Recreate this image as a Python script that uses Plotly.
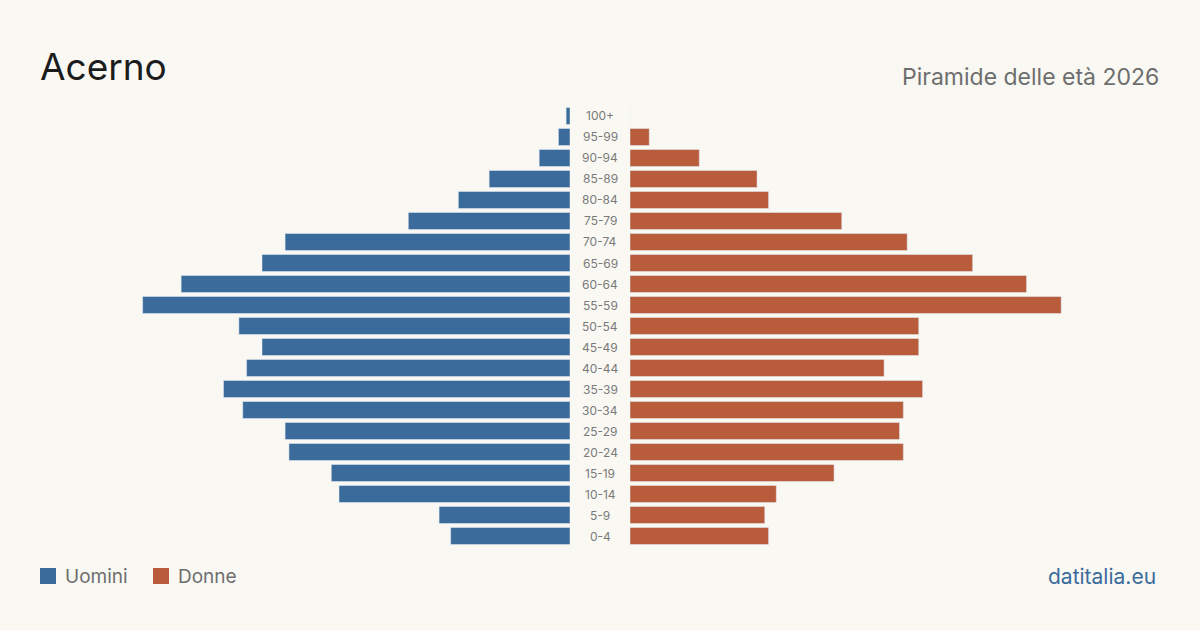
import plotly.graph_objects as go

age_groups = ["100+", "95-99", "90-94", "85-89", "80-84", "75-79", "70-74", "65-69",
              "60-64", "55-59", "50-54", "45-49", "40-44", "35-39", "30-34", "25-29",
              "20-24", "15-19", "10-14", "5-9", "0-4"]
men = [1, 3, 8, 21, 29, 42, 74, 80, 101, 111, 86, 80, 84, 90, 85, 74, 73, 62, 60, 34, 31]
women = [0, 5, 18, 33, 36, 55, 72, 89, 103, 112, 75, 75, 66, 76, 71, 70, 71, 53, 38, 35, 36]

title = "Acerno"
subtitle = "Piramide delle età 2026"
source = "datitalia.eu"
series_names = ["Uomini", "Donne"]

BLUE = "#3b6b9b"
ORANGE = "#b85c3c"
BG = "#f9f8f3"
W, H = 1200, 630
PX_PER_UNIT = 3.85

left_dom = [40 / W, 570 / W]
right_dom = [630 / W, 1160 / W]
rng = (570 - 40) / PX_PER_UNIT

y_dom = [(H - 546.5) / H, (H - 105.5) / H]

fig = go.Figure()
fig.add_trace(go.Bar(y=age_groups, x=men, orientation="h", marker_color=BLUE,
                     name=series_names[0], xaxis="x", yaxis="y", showlegend=False,
                     hovertemplate="%{y}: %{x}<extra>Uomini</extra>"))
fig.add_trace(go.Bar(y=age_groups, x=women, orientation="h", marker_color=ORANGE,
                     name=series_names[1], xaxis="x2", yaxis="y2", showlegend=False,
                     hovertemplate="%{y}: %{x}<extra>Donne</extra>"))

yaxis_common = dict(type="category", categoryorder="array", categoryarray=age_groups[::-1],
                    range=[-0.5, len(age_groups) - 0.5], domain=y_dom,
                    showticklabels=False, showgrid=False, zeroline=False, showline=False,
                    fixedrange=True)

fig.update_layout(
    width=W, height=H,
    paper_bgcolor=BG, plot_bgcolor=BG,
    margin=dict(l=0, r=0, t=0, b=0),
    bargap=0.19,
    font=dict(family="Inter, sans-serif"),
    xaxis=dict(domain=left_dom, range=[rng, 0], showticklabels=False, showgrid=False,
               zeroline=False, showline=False, anchor="y"),
    xaxis2=dict(domain=right_dom, range=[0, rng], showticklabels=False, showgrid=False,
                zeroline=False, showline=False, anchor="y2"),
    yaxis=dict(anchor="x", **yaxis_common),
    yaxis2=dict(anchor="x2", **yaxis_common),
)

annotations = []
for g in age_groups:
    annotations.append(dict(x=600 / W, xref="paper", y=g, yref="y", text=g,
                            showarrow=False, xanchor="center", yanchor="middle",
                            font=dict(size=12, color="#7a7a7a")))

annotations.append(dict(x=38 / W, y=1 - 67 / H, xref="paper", yref="paper", text=title,
                        showarrow=False, xanchor="left", yanchor="middle",
                        font=dict(size=37, color="#1c1c1c")))
annotations.append(dict(x=1161 / W, y=1 - 77 / H, xref="paper", yref="paper", text=subtitle,
                        showarrow=False, xanchor="right", yanchor="middle",
                        font=dict(size=23, color="#6e6e6e")))
annotations.append(dict(x=1158 / W, y=1 - 576 / H, xref="paper", yref="paper", text=source,
                        showarrow=False, xanchor="right", yanchor="middle",
                        font=dict(size=21, color=BLUE)))

shapes = []
legend_items = [(series_names[0], BLUE, 40), (series_names[1], ORANGE, 153)]
for name, col, x0 in legend_items:
    shapes.append(dict(type="rect", xref="paper", yref="paper",
                       x0=x0 / W, x1=(x0 + 16) / W, y0=1 - 584 / H, y1=1 - 568 / H,
                       fillcolor=col, line=dict(width=0)))
    annotations.append(dict(x=(x0 + 23) / W, y=1 - 576 / H, xref="paper", yref="paper",
                            text=name, showarrow=False, xanchor="left", yanchor="middle",
                            font=dict(size=19, color="#6e6e6e")))

fig.update_layout(annotations=annotations, shapes=shapes)
fig.write_html("out.html")
